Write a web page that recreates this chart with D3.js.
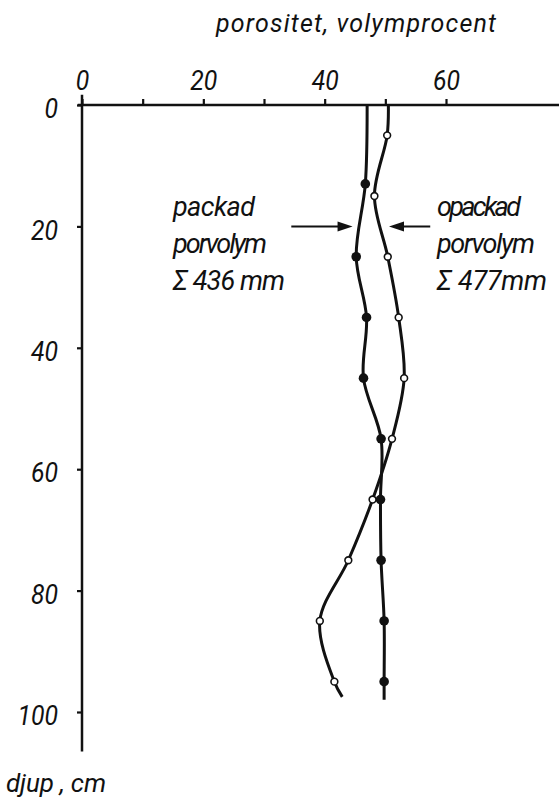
<!DOCTYPE html>
<html>
<head>
<meta charset="utf-8">
<script src="https://cdn.jsdelivr.net/npm/d3@7"></script>
<style>
  body { margin: 0; background: #fff; }
  svg text { font-family: Roboto, "DejaVu Sans Condensed", sans-serif; font-style: italic; font-weight: 400; fill: #111; }
</style>
</head>
<body>
<svg id="chart" width="559" height="802"></svg>
<script>
// depths in cm, porosity in volume %
var packadDepth = [13, 25, 35, 45, 55, 65, 75, 85, 95];
var packadValue = [46.7, 45.2, 46.9, 46.4, 49.3, 49.2, 49.3, 49.8, 49.8];
var packadTop = 47.0;       // where the line leaves the top axis
var packadEnd = [98, 49.8]; // [depth, value] at the bottom of the line

var opackadDepth = [5, 15, 25, 35, 45, 55, 65, 75, 85, 95];
var opackadValue = [50.3, 48.2, 50.4, 52.2, 53.1, 51.1, 47.9, 43.9, 39.2, 41.6];
var opackadTop = 50.5;
var opackadEnd = [97.5, 42.9];

var xTicks = [0, 10, 20, 30, 40, 50, 60];
var xLabels = [0, 20, 40, 60];
var yTicks = [0, 20, 40, 60, 80, 100];

var svg = d3.select('#chart');

var x = d3.scaleLinear().domain([0, 60]).range([82, 446]);
var y = d3.scaleLinear().domain([0, 100]).range([105, 712]);

// axes
svg.append('line')
  .attr('x1', x(-0.7)).attr('x2', 559)
  .attr('y1', y(0)).attr('y2', y(0))
  .attr('stroke', '#111').attr('stroke-width', 2.5);
svg.append('line')
  .attr('x1', x(0)).attr('x2', x(0))
  .attr('y1', y(-1.7)).attr('y2', y(106.5))
  .attr('stroke', '#111').attr('stroke-width', 2.5);

var xAxis = svg.append('g')
  .attr('transform', 'translate(0,' + y(0) + ')')
  .call(d3.axisTop(x).tickValues(xTicks).tickSize(6).tickPadding(9)
    .tickFormat(function(d) { return xLabels.indexOf(d) >= 0 ? d : ''; }));
xAxis.select('.domain').remove();

var yAxis = svg.append('g')
  .attr('transform', 'translate(' + x(0) + ',0)')
  .call(d3.axisLeft(y).tickValues(yTicks).tickSize(5).tickPadding(19));
yAxis.select('.domain').remove();
yAxis.selectAll('text').attr('dy', '0.45em');

svg.selectAll('.tick line').attr('stroke', '#111').attr('stroke-width', 2.2);
svg.selectAll('.tick text')
  .attr('font-family', null).attr('font-size', null)
  .style('font-size', '28px')
  .each(function() {
    var s = d3.select(this).text();
    if (s.length) d3.select(this).attr('textLength', s.length * 13.5).attr('lengthAdjust', 'spacingAndGlyphs');
  });

// titles
svg.append('text')
  .attr('x', 216).attr('y', 32)
  .attr('textLength', 280).attr('lengthAdjust', 'spacing')
  .style('font-size', '25px')
  .text('porositet, volymprocent');

svg.append('text')
  .attr('x', 6).attr('y', 792)
  .attr('textLength', 100).attr('lengthAdjust', 'spacing')
  .style('font-size', '26px')
  .text('djup , cm');

// curves
var line = d3.line()
  .x(function(d) { return x(d[1]); })
  .y(function(d) { return y(d[0]); })
  .curve(d3.curveCatmullRom.alpha(0.5));

var packadPts = [[0, packadTop]].concat(packadDepth.map(function(d, i) { return [d, packadValue[i]]; }), [packadEnd]);
var opackadPts = [[0, opackadTop]].concat(opackadDepth.map(function(d, i) { return [d, opackadValue[i]]; }), [opackadEnd]);

svg.append('path').datum(packadPts)
  .attr('d', line).attr('fill', 'none').attr('stroke', '#111').attr('stroke-width', 3);
svg.append('path').datum(opackadPts)
  .attr('d', line).attr('fill', 'none').attr('stroke', '#111').attr('stroke-width', 3);

svg.selectAll('.filled')
  .data(packadDepth)
  .enter()
  .append('circle')
  .attr('cx', function(d, i) { return x(packadValue[i]); })
  .attr('cy', function(d) { return y(d); })
  .attr('r', 4.8)
  .attr('fill', '#111');

svg.selectAll('.open')
  .data(opackadDepth)
  .enter()
  .append('circle')
  .attr('cx', function(d, i) { return x(opackadValue[i]); })
  .attr('cy', function(d) { return y(d); })
  .attr('r', 3.4)
  .attr('fill', '#fff')
  .attr('stroke', '#111')
  .attr('stroke-width', 1.6);

// arrows
function arrow(from, to, depth) {
  var x0 = x(from), x1 = x(to), yy = y(depth);
  var dir = x1 > x0 ? 1 : -1;
  svg.append('line')
    .attr('x1', x0).attr('x2', x1 - dir * 10)
    .attr('y1', yy).attr('y2', yy)
    .attr('stroke', '#111').attr('stroke-width', 2);
  svg.append('path')
    .attr('d', 'M' + x1 + ',' + yy + 'L' + (x1 - dir * 15) + ',' + (yy - 5) + 'L' + (x1 - dir * 15) + ',' + (yy + 5) + 'Z')
    .attr('fill', '#111');
}
arrow(34.5, 44.6, 20);
arrow(57.4, 50.6, 20);

// labels beside the curves
var leftLines = ['packad', 'porvolym', 'Σ 436 mm'];
var rightLines = ['opackad', 'porvolym', 'Σ 477mm'];
var leftLen = [82, 94, 112];
var rightLen = [84, 98, 110];

leftLines.forEach(function(t, i) {
  svg.append('text')
    .attr('x', x(15)).attr('y', 216 + i * 37)
    .attr('textLength', leftLen[i]).attr('lengthAdjust', 'spacing')
    .style('font-size', '27px')
    .text(t);
});
rightLines.forEach(function(t, i) {
  svg.append('text')
    .attr('x', x(58.5)).attr('y', 216 + i * 37)
    .attr('textLength', rightLen[i]).attr('lengthAdjust', 'spacing')
    .style('font-size', '27px')
    .text(t);
});
</script>
</body>
</html>
